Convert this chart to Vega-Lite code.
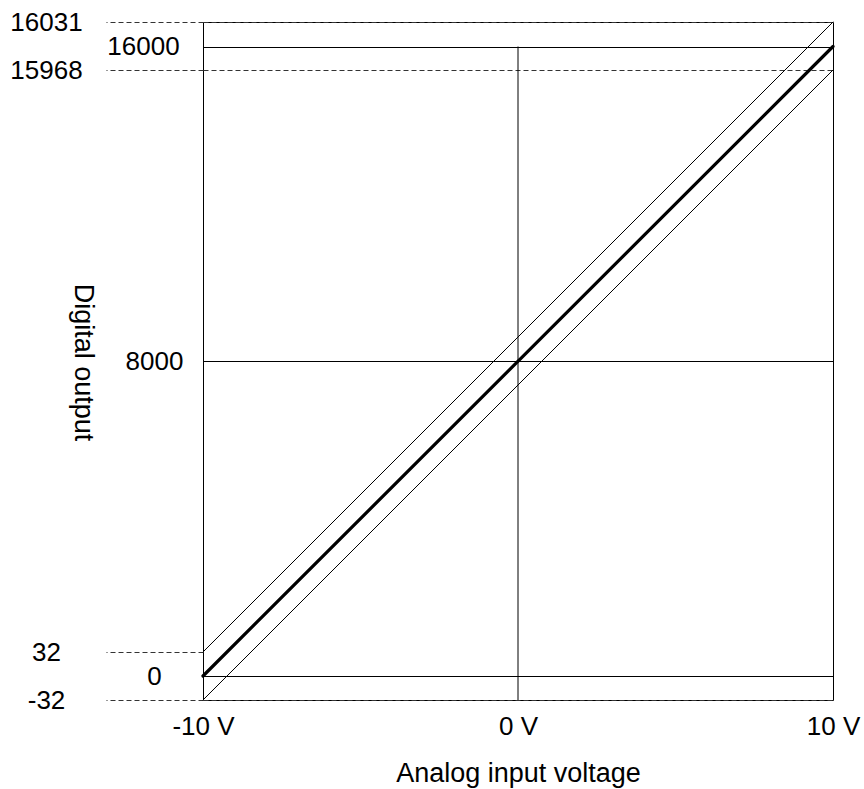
{
  "$schema": "https://vega.github.io/schema/vega-lite/v6.json",
  "width": 630,
  "height": 678,
  "autosize": {"type": "none"},
  "padding": {"left": 203, "top": 22, "right": 31, "bottom": 89},
  "background": "white",
  "config": {
    "font": "Liberation Sans",
    "view": {"stroke": "black", "strokeWidth": 1}
  },
  "datasets": {
    "lines": [
      {"series": "nominal", "voltage": -10, "output": 0},
      {"series": "nominal", "voltage": 10, "output": 16000},
      {"series": "upper", "voltage": -10, "output": 32},
      {"series": "upper", "voltage": 10, "output": 16031},
      {"series": "lower", "voltage": -10, "output": -32},
      {"series": "lower", "voltage": 10, "output": 15968}
    ],
    "zeroVolt": [
      {"voltage": 0, "from": -32, "to": 16000}
    ]
  },
  "layer": [
    {
      "data": {"name": "zeroVolt"},
      "mark": {"type": "rule", "color": "black", "strokeWidth": 1},
      "encoding": {
        "x": {
          "field": "voltage",
          "type": "quantitative",
          "scale": {"domain": [-10, 10], "nice": false, "zero": false},
          "axis": {
            "values": [-10, 0, 10],
            "labelExpr": "datum.value + ' V'",
            "domain": false,
            "ticks": false,
            "grid": false,
            "labelPadding": 13,
            "labelFontSize": 26,
            "labelColor": "black",
            "labelFlush": false,
            "labelOverlap": false,
            "labelBound": false,
            "title": "Analog input voltage",
            "titleFontSize": 27,
            "titleFontWeight": "normal",
            "titleColor": "black",
            "titlePadding": 21
          }
        },
        "y": {
          "field": "from",
          "type": "quantitative",
          "scale": {
            "domain": [-32, 0, 32, 15968, 16000, 16031],
            "range": [678, 654, 630, 48, 24.5, 0],
            "nice": false,
            "zero": false
          },
          "axis": {
            "orient": "left",
            "values": [0, 8000, 16000],
            "labelExpr": "'' + datum.value",
            "domain": false,
            "ticks": false,
            "tickSize": 0,
            "labelPadding": {"condition": {"test": "datum.value == 16000", "value": 60}, "value": 49},
            "labelAlign": "center",
            "labelBaseline": "middle",
            "labelFontSize": 26,
            "labelColor": "black",
            "labelOverlap": false,
            "labelBound": false,
            "labelFlush": false,
            "grid": true,
            "gridColor": "black",
            "gridWidth": 1,
            "gridOpacity": 1,
            "title": "Digital output",
            "titleAngle": 90,
            "titleX": -121,
            "titleY": 340,
            "titleAlign": "center",
            "titleBaseline": "middle",
            "titleFontSize": 27,
            "titleFontWeight": "normal",
            "titleColor": "black"
          }
        },
        "y2": {"field": "to"}
      }
    },
    {
      "data": {"name": "lines"},
      "mark": {"type": "line", "color": "black", "strokeCap": "round"},
      "encoding": {
        "x": {"field": "voltage", "type": "quantitative"},
        "y": {
          "field": "output",
          "type": "quantitative",
          "axis": {
            "orient": "left",
            "values": [-32, 32, 15968, 16031],
            "labelExpr": "'' + datum.value",
            "domain": false,
            "ticks": true,
            "tickSize": 97,
            "tickColor": "#333333",
            "tickDash": [5, 3],
            "tickWidth": 1,
            "labelPadding": 60,
            "labelAlign": "center",
            "labelBaseline": "middle",
            "labelFontSize": 26,
            "labelColor": "black",
            "labelOverlap": false,
            "labelBound": false,
            "labelFlush": false,
            "grid": true,
            "gridColor": "#333333",
            "gridDash": [5, 3],
            "gridWidth": 1,
            "gridOpacity": {"condition": {"test": "datum.value == 32", "value": 0}, "value": 1},
            "title": null
          }
        },
        "detail": {"field": "series", "type": "nominal"},
        "strokeWidth": {
          "condition": {"test": "datum.series == 'nominal'", "value": 3.2},
          "value": 1
        }
      }
    }
  ],
  "resolve": {"axis": {"y": "independent"}}
}
